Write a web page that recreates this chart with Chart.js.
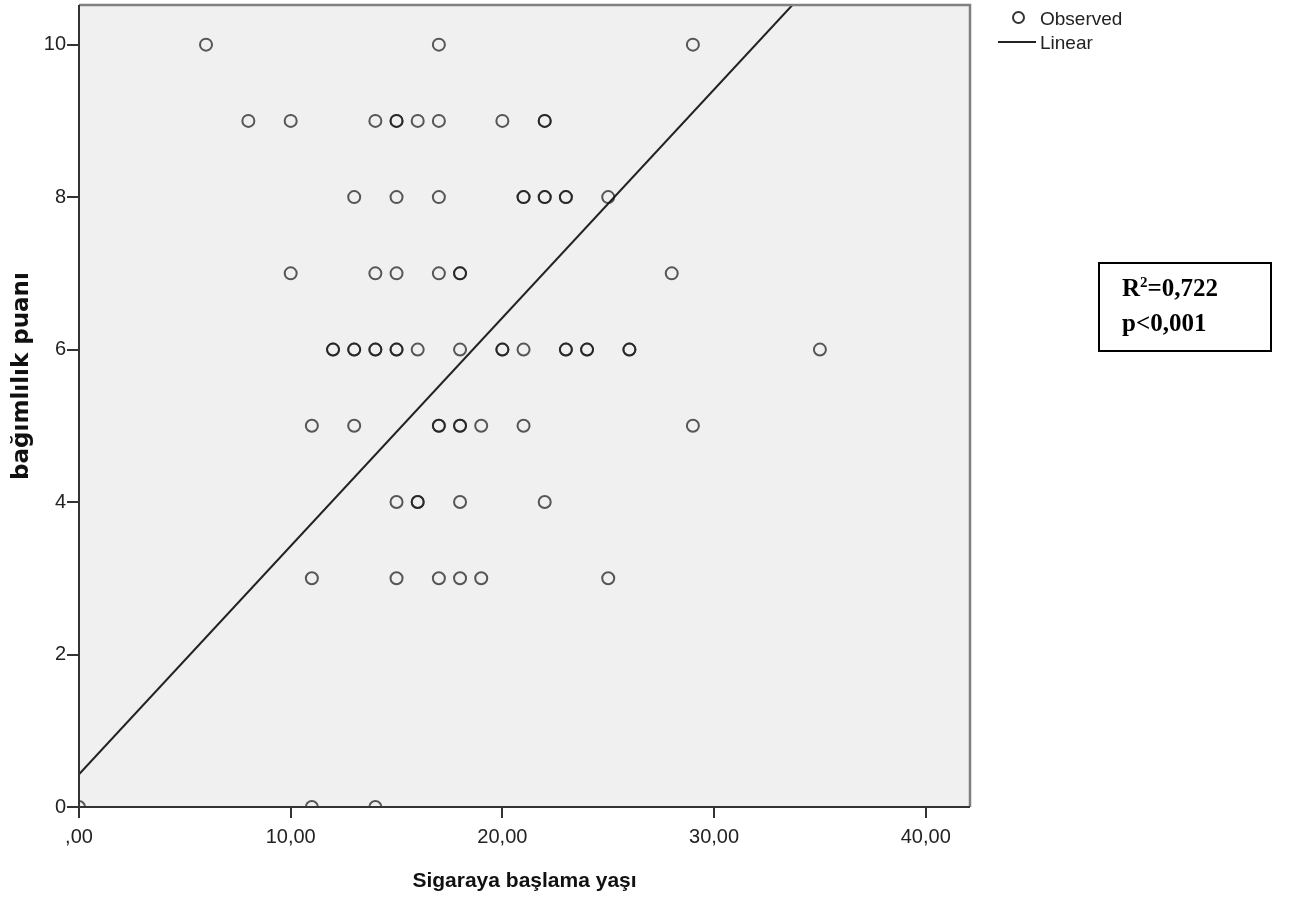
<!DOCTYPE html>
<html>
<head>
<meta charset="utf-8">
<script src="https://cdn.jsdelivr.net/npm/chart.js@4/dist/chart.umd.min.js"></script>
<style>
  body { margin: 0; background: #fff; font-family: "Liberation Sans", Arial, sans-serif; }
  #wrap { position: relative; width: 1289px; height: 905px; }
  #scatter { position: absolute; left: 0; top: 0; }
  .lg { position: absolute; font-size: 19px; color: #222; line-height: 22px; }
  .circ { position: absolute; left: 1012px; top: 11px; width: 9px; height: 9px; border: 2px solid #333; border-radius: 50%; }
  .ln { position: absolute; left: 998px; top: 41px; width: 38px; border-top: 2px solid #222; }
  .stats { position: absolute; left: 1098px; top: 262px; width: 170px; height: 86px; border: 2px solid #000;
           font-family: "Liberation Serif", "Times New Roman", serif; font-weight: bold; font-size: 25px; color: #000; }
  .stats div { position: absolute; left: 22px; }
  .stats sup { font-size: 15px; }
</style>
</head>
<body>
<div id="wrap">
  <canvas id="scatter" width="1289" height="905"></canvas>
  <span class="circ"></span>
  <div class="lg" style="left:1040px; top:8px">Observed</div>
  <span class="ln"></span>
  <div class="lg" style="left:1040px; top:32px">Linear</div>
  <div class="stats">
    <div style="top:10px">R<sup>2</sup>=0,722</div>
    <div style="top:45px">p&lt;0,001</div>
  </div>
</div>
<script>
// observed points (x = başlama yaşı, y = bağımlılık puanı); repeats = darker circles
const obsX = [6, 17, 29,
    8, 10, 14, 15, 15, 16, 17, 20, 22, 22,
    13, 15, 17, 21, 21, 22, 22, 23, 23, 25,
    10, 14, 15, 17, 18, 18, 28,
    12, 12, 13, 13, 14, 14, 15, 15, 16, 18, 20, 20, 21, 23, 23, 24, 24, 26, 26, 35,
    11, 13, 17, 17, 18, 18, 19, 21, 29,
    15, 16, 16, 18, 22,
    11, 15, 17, 18, 19, 25,
    0, 11, 14];
const obsY = [10, 10, 10,
    9, 9, 9, 9, 9, 9, 9, 9, 9, 9,
    8, 8, 8, 8, 8, 8, 8, 8, 8, 8,
    7, 7, 7, 7, 7, 7, 7,
    6, 6, 6, 6, 6, 6, 6, 6, 6, 6, 6, 6, 6, 6, 6, 6, 6, 6, 6, 6,
    5, 5, 5, 5, 5, 5, 5, 5, 5,
    4, 4, 4, 4, 4,
    3, 3, 3, 3, 3, 3,
    0, 0, 0];

// linear fit line, endpoints
const fitX = [0, 33.7];
const fitY = [0.43, 10.52];

const xTicks = [0, 10, 20, 30, 40];
const yTicks = [0, 2, 4, 6, 8, 10];

const yTitle = "bağımlılık puanı";

const fmtX = v => v === 0 ? ",00" : v.toFixed(2).replace(".", ",");

// grey plot background + frame like SPSS, y title drawn a bit above centre
const framePlugin = {
    id: "frame",
    beforeDraw(chart) {
        const { ctx, chartArea: a } = chart;
        ctx.save();
        ctx.fillStyle = "#f0f0f0";
        ctx.fillRect(a.left, a.top, a.right - a.left, a.bottom - a.top);
        ctx.restore();
    },
    afterDraw(chart) {
        const { ctx, chartArea: a } = chart;
        ctx.save();
        ctx.strokeStyle = "#808080";
        ctx.lineWidth = 2.5;
        ctx.beginPath();
        ctx.moveTo(a.left, a.top);
        ctx.lineTo(a.right, a.top);
        ctx.lineTo(a.right, a.bottom);
        ctx.stroke();
        ctx.strokeStyle = "#333";
        ctx.lineWidth = 2;
        ctx.beginPath();
        ctx.moveTo(a.left, a.top);
        ctx.lineTo(a.left, a.bottom);
        ctx.lineTo(a.right, a.bottom);
        ctx.stroke();

        // y axis title
        ctx.translate(22, 376);
        ctx.rotate(-Math.PI / 2);
        ctx.fillStyle = "#111";
        ctx.font = "bold 23px 'DejaVu Sans'";
        ctx.textAlign = "center";
        ctx.textBaseline = "middle";
        ctx.fillText(yTitle, 0, 0);
        ctx.restore();
    }
};

new Chart(document.getElementById("scatter").getContext("2d"), {
    type: "scatter",
    data: {
        datasets: [{
            label: "Observed",
            data: obsX.map((x, i) => ({ x: x, y: obsY[i] })),
            pointStyle: "circle",
            pointRadius: 6,
            pointBorderWidth: 2,
            borderColor: "rgba(20,20,20,0.7)",
            backgroundColor: "rgba(0,0,0,0)"
        }, {
            type: "line",
            label: "Linear",
            data: fitX.map((x, i) => ({ x: x, y: fitY[i] })),
            borderColor: "#222",
            borderWidth: 2,
            pointRadius: 0,
            fill: false
        }]
    },
    plugins: [framePlugin],
    options: {
        responsive: false,
        animation: false,
        layout: { autoPadding: false, padding: { left: 0, top: 5, right: 319, bottom: 0 } },
        plugins: { legend: { display: false }, tooltip: { enabled: false } },
        scales: {
            x: {
                type: "linear",
                min: 0,
                max: 42.09,
                afterBuildTicks: s => { s.ticks = xTicks.map(v => ({ value: v })); },
                afterFit: s => { s.height = 98; s.paddingLeft = 0; s.paddingRight = 0; },
                grid: { drawOnChartArea: false, drawTicks: true, tickLength: 11, color: "#333", lineWidth: 2 },
                border: { display: false },
                ticks: { callback: v => fmtX(v), color: "#222", padding: 7, maxRotation: 0,
                         font: { family: "Liberation Sans", size: 20 } },
                title: { display: true, text: "Sigaraya başlama yaşı", color: "#111", padding: { top: 0, bottom: 11 },
                         font: { family: "Liberation Sans", size: 21, weight: "bold" } }
            },
            y: {
                type: "linear",
                min: 0,
                max: 10.52,
                afterBuildTicks: s => { s.ticks = yTicks.map(v => ({ value: v })); },
                afterFit: s => { s.width = 79; s.paddingTop = 0; s.paddingBottom = 0; },
                grid: { drawOnChartArea: false, drawTicks: true, tickLength: 12, color: "#333", lineWidth: 2 },
                border: { display: false },
                ticks: { color: "#222", padding: 1, font: { family: "Liberation Sans", size: 20 } },
                title: { display: false }
            }
        }
    }
});
</script>
</body>
</html>
